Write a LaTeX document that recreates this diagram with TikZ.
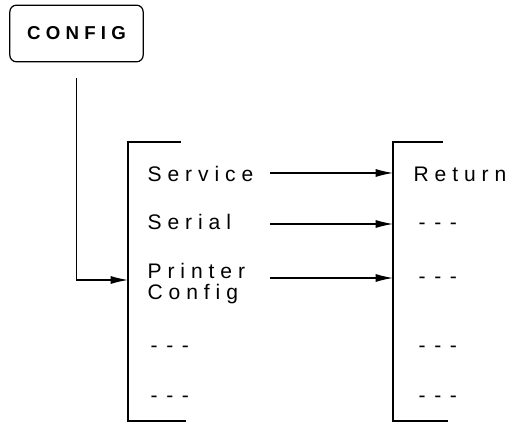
\documentclass[tikz,border=0pt]{standalone}
\usepackage{fontspec}
\setmainfont{Liberation Sans}
\newfontfamily\fontvoce[LetterSpace=28]{Liberation Sans}
\newfontfamily\fonttasto[LetterSpace=28]{Liberation Sans}
\usetikzlibrary{arrows.meta,calc}
\newcommand{\trattini}{-\hspace{6.5pt}-\hspace{6.5pt}-}

\begin{document}
\begin{tikzpicture}[
      x=0.75pt, y=-0.75pt,
      line width=0.9pt,
      every node/.style={inner sep=0pt, anchor=base west, font=\fontvoce\fontsize{15.8}{18}\selectfont},
      tasto/.style={draw, rounded corners=5pt, anchor=center, minimum width=100pt, minimum height=42.5pt,
        font=\fonttasto\bfseries\fontsize{14}{16}\selectfont},
      freccia/.style={-{Latex[length=13pt,width=6pt]}, line width=0.8pt}
    ]
    \useasboundingbox (0,0) rectangle (514,423);
    \node[tasto] (config) at (76.5,33.5) {CONFIG};
    % parentesi dei due menu
    \coordinate (ltop) at (128,142);
    \coordinate (lbot) at (128,421);
    \coordinate (rtop) at (393,142);
    \coordinate (rbot) at (393,421);
    \draw ($(ltop)+(53,0)$) -- (ltop) -- (lbot) -- ($(lbot)+(58,0)$);
    \draw ($(rtop)+(50,0)$) -- (rtop) -- (rbot) -- ($(rbot)+(55,0)$);
    % voci a sinistra
    \node (service) at (147,182) {Service};
    \node (serial)  at (147,230) {Serial};
    \node (printer) at (147,279) {Printer};
    \node (pconfig) at (147,300) {Config};
    \node (l4)      at (150,353) {\trattini};
    \node (l5)      at (150,403) {\trattini};
    % voci a destra
    \node (return) at (413,182) {Return};
    \node (r2)     at (418,230) {\trattini};
    \node (r3)     at (418,284) {\trattini};
    \node (r4)     at (418,353) {\trattini};
    \node (r5)     at (418,403) {\trattini};
    % frecce
    \coordinate (lin) at (128,280);
    \draw[freccia] ([yshift=-12pt]config.south) |- (lin);
    \coordinate (a1) at (270,173);
    \coordinate (a2) at (270,224);
    \coordinate (a3) at (270,278);
    \draw[freccia] (a1) -- (a1 -| rtop);
    \draw[freccia] (a2) -- (a2 -| rtop);
    \draw[freccia] (a3) -- (a3 -| rtop);
  \end{tikzpicture}
\end{document}
